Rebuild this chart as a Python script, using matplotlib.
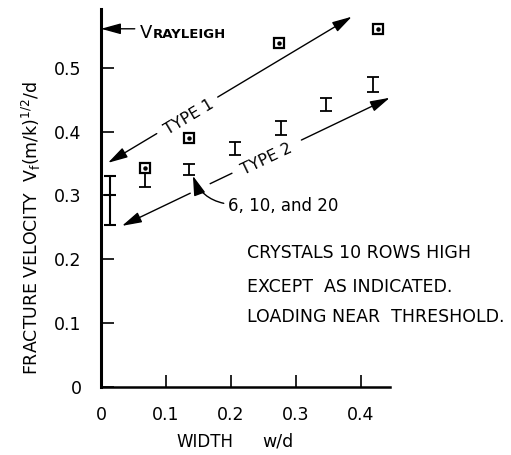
import matplotlib
matplotlib.use("Agg")
import matplotlib.pyplot as plt
import numpy as np

plt.rcParams['font.family'] = ['DejaVu Sans']
plt.rcParams['mathtext.default'] = 'regular'

# ---- data ----
type1_x = [0.068, 0.135, 0.274, 0.426]
type1_y = [0.343, 0.390, 0.538, 0.560]
type1_err_lo = [0.314, None, None, None]   # only first point has a lower bar

type2_x = [0.135, 0.206, 0.277, 0.346, 0.419]
type2_lo = [0.332, 0.363, 0.395, 0.432, 0.462]
type2_hi = [0.349, 0.383, 0.416, 0.453, 0.485]

big_x = [0.014]
big_mid = [0.300]
big_lo = [0.254]
big_hi = [0.331]

v_rayleigh = 0.561

x_ticks = [0, 0.1, 0.2, 0.3, 0.4]
x_ticklabels = ['0', '0.1', '0.2', '0.3', '0.4']
y_ticks = [0, 0.1, 0.2, 0.3, 0.4, 0.5]
y_ticklabels = ['0', '0.1', '0.2', '0.3', '0.4', '0.5']

W, H = 511, 455
fig = plt.figure(figsize=(W / 100, H / 100), dpi=100)
x0, x1 = 101, 390
y0, y1 = 387, 9
ax = fig.add_axes([x0 / W, 1 - y0 / H, (x1 - x0) / W, (y0 - y1) / H])
ax.set_xlim(0, 0.445)
ax.set_ylim(0, 0.592)

for s in ['top', 'right']:
    ax.spines[s].set_visible(False)
ax.spines['left'].set_linewidth(2.2)
ax.spines['bottom'].set_linewidth(1.8)

ax.set_xticks(x_ticks)
ax.set_xticklabels(x_ticklabels)
ax.set_yticks(y_ticks)
ax.set_yticklabels(y_ticklabels)
ax.tick_params(axis='both', direction='in', length=9, width=1.2, labelsize=12.5)
ax.tick_params(axis='x', pad=14)
ax.tick_params(axis='y', pad=14)

# Type 1 squares
ax.plot(type1_x, type1_y, ls='none', marker='s', ms=7, mfc='white', mec='black', mew=1.6, zorder=3)
ax.plot(type1_x, type1_y, ls='none', marker='o', ms=2.2, color='black', zorder=4)
for xi, yi, lo in zip(type1_x, type1_y, type1_err_lo):
    if lo is not None:
        ax.errorbar([xi], [yi - 0.007], yerr=[[yi - 0.007 - lo], [0]], fmt='none',
                    ecolor='black', elinewidth=1.3, capsize=4, capthick=1.3)

# Type 2 I-bars
t2x = np.array(type2_x)
t2lo = np.array(type2_lo)
t2hi = np.array(type2_hi)
t2mid = (t2lo + t2hi) / 2
ax.errorbar(t2x, t2mid, yerr=[t2mid - t2lo, t2hi - t2mid], fmt='none',
            ecolor='black', elinewidth=1.3, capsize=4, capthick=1.3)

# Large bar near zero width
bm = np.array(big_mid)
ax.errorbar(big_x, bm, yerr=[bm - np.array(big_lo), np.array(big_hi) - bm], fmt='none',
            ecolor='black', elinewidth=1.5, capsize=4.5, capthick=1.5, clip_on=False)
ax.plot(big_x, big_mid, ls='none', marker='_', ms=9, mew=1.5, color='black', clip_on=False)

arrow_kw = dict(arrowstyle='-|>,head_length=1.2,head_width=0.33', color='black', lw=1.0,
                shrinkA=0, shrinkB=0)


def seg_arrow(p_from, p_to):
    ax.annotate('', xy=p_to, xytext=p_from, arrowprops=arrow_kw, annotation_clip=False)


def seg_line(p_from, p_to):
    ax.plot([p_from[0], p_to[0]], [p_from[1], p_to[1]], color='black', lw=1.0, clip_on=False)


def px2d(px, py):
    return ((px - x0) / 650.0, (y0 - py) / 638.0)


def angle(pa, pb):
    return np.degrees(np.arctan2(pa[1] - pb[1], pb[0] - pa[0]))


def along(a, b, t):
    return (a[0] + (b[0] - a[0]) * t, a[1] + (b[1] - a[1]) * t)

# V Rayleigh arrow
seg_arrow((0.052, v_rayleigh), (0.0, v_rayleigh))
ax.text(0.060, v_rayleigh - 0.014, 'V', fontsize=13, va='baseline', ha='left')
ax.text(0.079, v_rayleigh - 0.014, 'RAYLEIGH', fontsize=9.5, va='baseline', ha='left', fontweight='bold')

# Type 1 arrows
a1 = (108, 163)
b1 = (352, 17)
g1s = along(a1, b1, 0.20)
g1e = along(a1, b1, 0.45)
c1 = along(a1, b1, 0.325)
seg_arrow(px2d(*g1s), px2d(*a1))
seg_arrow(px2d(*g1e), px2d(*b1))
ax.text(*px2d(c1[0] + 2, c1[1] + 2), 'TYPE 1', rotation=angle(a1, b1), rotation_mode='anchor',
        ha='center', va='center', fontsize=11.5)

# Type 2 arrows
a2 = (122, 226)
b2 = (390, 98)
g2a = along(a2, b2, 0.255)
g2b = along(a2, b2, 0.33)
g2c = along(a2, b2, 0.41)
g2d = along(a2, b2, 0.67)
c2 = along(a2, b2, 0.54)
seg_arrow(px2d(*g2a), px2d(*a2))
seg_line(px2d(*g2b), px2d(*g2c))
seg_arrow(px2d(*g2d), px2d(*b2))
ax.text(*px2d(c2[0], c2[1] + 2), 'TYPE 2', rotation=angle(a2, b2), rotation_mode='anchor',
        ha='center', va='center', fontsize=11.5)

# "6, 10, and 20" curved arrow
ax.annotate('6, 10, and 20', xy=px2d(193, 176), xytext=px2d(228, 206),
            fontsize=12, ha='left', va='center',
            arrowprops=dict(arrowstyle='-|>,head_length=1.0,head_width=0.3', color='black', lw=1.0,
                            shrinkA=1, shrinkB=0, relpos=(0.0, 0.6),
                            connectionstyle='arc3,rad=-0.3'))

# Text block
tx = 0.225
for yy, s in zip([0.210, 0.157, 0.110],
                 ['CRYSTALS 10 ROWS HIGH', 'EXCEPT  AS INDICATED.', 'LOADING NEAR  THRESHOLD.']):
    ax.text(tx, yy, s, fontsize=12.5, ha='left', va='center')

# Axis labels
fig.text(31 / W, 1 - 228 / H, r'FRACTURE VELOCITY  $V_f(m/k)^{1/2}/d$', rotation=90,
         ha='center', va='center', fontsize=12.5)
fig.text(205 / W, 1 - 442 / H, 'WIDTH', ha='center', va='center', fontsize=12)
fig.text(278 / W, 1 - 442 / H, 'w/d', ha='center', va='center', fontsize=12.5)

fig.savefig('out.png', dpi=100)
